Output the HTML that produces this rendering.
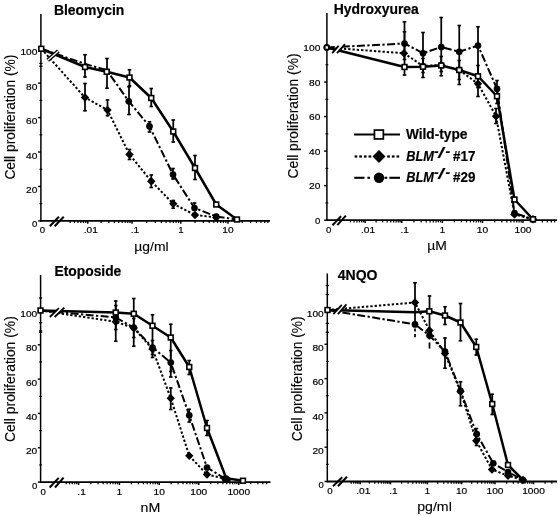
<!DOCTYPE html>
<html lang="en"><head><meta charset="utf-8"><title>Cell proliferation</title>
<style>html,body{margin:0;padding:0;background:#fff}svg{display:block}</style></head>
<body>
<svg width="560" height="516" viewBox="0 0 560 516" font-family='"Liberation Sans", sans-serif' fill="#000">
<style>text{stroke:#000;stroke-width:0.2px}text.u{stroke-width:0.12px}text.t{stroke-width:0.2px}</style>
<rect width="560" height="516" fill="#fff"/>
<line x1="40.90" y1="14.00" x2="40.90" y2="221.50" stroke="#000" stroke-width="1.5" />
<line x1="40.20" y1="220.90" x2="270.00" y2="220.90" stroke="#000" stroke-width="1.8" />
<line x1="38.10" y1="48.75" x2="40.90" y2="48.75" stroke="#000" stroke-width="1.4" />
<line x1="38.10" y1="83.18" x2="40.90" y2="83.18" stroke="#000" stroke-width="1.4" />
<line x1="39.50" y1="100.39" x2="42.30" y2="100.39" stroke="#000" stroke-width="1.1" />
<line x1="38.10" y1="117.61" x2="40.90" y2="117.61" stroke="#000" stroke-width="1.4" />
<line x1="39.50" y1="134.82" x2="42.30" y2="134.82" stroke="#000" stroke-width="1.1" />
<line x1="38.10" y1="152.04" x2="40.90" y2="152.04" stroke="#000" stroke-width="1.4" />
<line x1="39.50" y1="169.25" x2="42.30" y2="169.25" stroke="#000" stroke-width="1.1" />
<line x1="38.10" y1="186.47" x2="40.90" y2="186.47" stroke="#000" stroke-width="1.4" />
<line x1="39.50" y1="203.69" x2="42.30" y2="203.69" stroke="#000" stroke-width="1.1" />
<line x1="38.10" y1="220.90" x2="40.90" y2="220.90" stroke="#000" stroke-width="1.4" />
<line x1="39.30" y1="63.40" x2="42.50" y2="63.40" stroke="#000" stroke-width="1.3" />
<line x1="39.30" y1="66.20" x2="42.50" y2="66.20" stroke="#000" stroke-width="1.3" />
<text x="37.40" y="55.25" font-size="9.5" text-anchor="end" font-weight="normal" font-style="normal" textLength="16.96" lengthAdjust="spacingAndGlyphs" >100</text>
<text x="37.40" y="89.68" font-size="9.5" text-anchor="end" font-weight="normal" font-style="normal" textLength="11.30" lengthAdjust="spacingAndGlyphs" >80</text>
<text x="37.40" y="124.11" font-size="9.5" text-anchor="end" font-weight="normal" font-style="normal" textLength="11.30" lengthAdjust="spacingAndGlyphs" >60</text>
<text x="37.40" y="158.54" font-size="9.5" text-anchor="end" font-weight="normal" font-style="normal" textLength="11.30" lengthAdjust="spacingAndGlyphs" >40</text>
<text x="37.40" y="192.97" font-size="9.5" text-anchor="end" font-weight="normal" font-style="normal" textLength="11.30" lengthAdjust="spacingAndGlyphs" >20</text>
<text x="37.40" y="227.40" font-size="9.5" text-anchor="end" font-weight="normal" font-style="normal" >0</text>
<text x="42.50" y="233.30" font-size="9.6" text-anchor="middle" font-weight="normal" font-style="normal" >0</text>
<text x="90.75" y="233.30" font-size="9.6" text-anchor="middle" font-weight="normal" font-style="normal" textLength="14.14" lengthAdjust="spacingAndGlyphs" >.01</text>
<text x="135.00" y="233.30" font-size="9.6" text-anchor="middle" font-weight="normal" font-style="normal" textLength="8.49" lengthAdjust="spacingAndGlyphs" >.1</text>
<text x="180.80" y="233.30" font-size="9.6" text-anchor="middle" font-weight="normal" font-style="normal" >1</text>
<text x="228.00" y="233.30" font-size="9.6" text-anchor="middle" font-weight="normal" font-style="normal" textLength="11.32" lengthAdjust="spacingAndGlyphs" >10</text>
<line x1="70.14" y1="220.90" x2="70.14" y2="223.10" stroke="#000" stroke-width="1.25" />
<line x1="74.43" y1="220.90" x2="74.43" y2="223.10" stroke="#000" stroke-width="1.25" />
<line x1="77.93" y1="220.90" x2="77.93" y2="223.10" stroke="#000" stroke-width="1.25" />
<line x1="80.90" y1="220.90" x2="80.90" y2="223.10" stroke="#000" stroke-width="1.25" />
<line x1="83.46" y1="220.90" x2="83.46" y2="223.10" stroke="#000" stroke-width="1.25" />
<line x1="85.73" y1="220.90" x2="85.73" y2="223.10" stroke="#000" stroke-width="1.25" />
<line x1="87.75" y1="220.90" x2="87.75" y2="223.70" stroke="#000" stroke-width="1.5" />
<line x1="101.07" y1="220.90" x2="101.07" y2="223.10" stroke="#000" stroke-width="1.25" />
<line x1="108.86" y1="220.90" x2="108.86" y2="223.10" stroke="#000" stroke-width="1.25" />
<line x1="114.39" y1="220.90" x2="114.39" y2="223.10" stroke="#000" stroke-width="1.25" />
<line x1="118.68" y1="220.90" x2="118.68" y2="223.10" stroke="#000" stroke-width="1.25" />
<line x1="122.18" y1="220.90" x2="122.18" y2="223.10" stroke="#000" stroke-width="1.25" />
<line x1="125.15" y1="220.90" x2="125.15" y2="223.10" stroke="#000" stroke-width="1.25" />
<line x1="127.71" y1="220.90" x2="127.71" y2="223.10" stroke="#000" stroke-width="1.25" />
<line x1="129.98" y1="220.90" x2="129.98" y2="223.10" stroke="#000" stroke-width="1.25" />
<line x1="132.00" y1="220.90" x2="132.00" y2="223.70" stroke="#000" stroke-width="1.5" />
<line x1="146.69" y1="220.90" x2="146.69" y2="223.10" stroke="#000" stroke-width="1.25" />
<line x1="155.28" y1="220.90" x2="155.28" y2="223.10" stroke="#000" stroke-width="1.25" />
<line x1="161.38" y1="220.90" x2="161.38" y2="223.10" stroke="#000" stroke-width="1.25" />
<line x1="166.11" y1="220.90" x2="166.11" y2="223.10" stroke="#000" stroke-width="1.25" />
<line x1="169.97" y1="220.90" x2="169.97" y2="223.10" stroke="#000" stroke-width="1.25" />
<line x1="173.24" y1="220.90" x2="173.24" y2="223.10" stroke="#000" stroke-width="1.25" />
<line x1="176.07" y1="220.90" x2="176.07" y2="223.10" stroke="#000" stroke-width="1.25" />
<line x1="178.57" y1="220.90" x2="178.57" y2="223.10" stroke="#000" stroke-width="1.25" />
<line x1="180.80" y1="220.90" x2="180.80" y2="223.70" stroke="#000" stroke-width="1.5" />
<line x1="195.01" y1="220.90" x2="195.01" y2="223.10" stroke="#000" stroke-width="1.25" />
<line x1="203.32" y1="220.90" x2="203.32" y2="223.10" stroke="#000" stroke-width="1.25" />
<line x1="209.22" y1="220.90" x2="209.22" y2="223.10" stroke="#000" stroke-width="1.25" />
<line x1="213.79" y1="220.90" x2="213.79" y2="223.10" stroke="#000" stroke-width="1.25" />
<line x1="217.53" y1="220.90" x2="217.53" y2="223.10" stroke="#000" stroke-width="1.25" />
<line x1="220.69" y1="220.90" x2="220.69" y2="223.10" stroke="#000" stroke-width="1.25" />
<line x1="223.43" y1="220.90" x2="223.43" y2="223.10" stroke="#000" stroke-width="1.25" />
<line x1="225.84" y1="220.90" x2="225.84" y2="223.10" stroke="#000" stroke-width="1.25" />
<line x1="228.00" y1="220.90" x2="228.00" y2="223.70" stroke="#000" stroke-width="1.5" />
<line x1="242.21" y1="220.90" x2="242.21" y2="223.10" stroke="#000" stroke-width="1.25" />
<line x1="250.52" y1="220.90" x2="250.52" y2="223.10" stroke="#000" stroke-width="1.25" />
<line x1="256.42" y1="220.90" x2="256.42" y2="223.10" stroke="#000" stroke-width="1.25" />
<line x1="260.99" y1="220.90" x2="260.99" y2="223.10" stroke="#000" stroke-width="1.25" />
<line x1="264.73" y1="220.90" x2="264.73" y2="223.10" stroke="#000" stroke-width="1.25" />
<line x1="267.89" y1="220.90" x2="267.89" y2="223.10" stroke="#000" stroke-width="1.25" />
<text x="134.30" y="251.00" font-size="13.6" text-anchor="start" font-weight="normal" font-style="normal" textLength="34.30" lengthAdjust="spacingAndGlyphs" class="u">µg/ml</text>
<text x="53.90" y="14.80" font-size="14" text-anchor="start" font-weight="bold" font-style="normal" textLength="70.40" lengthAdjust="spacingAndGlyphs" class="t">Bleomycin</text>
<text class="u" transform="translate(15.40,179.60) rotate(-90)" font-size="14" textLength="125.00" lengthAdjust="spacingAndGlyphs">Cell proliferation (%)</text>
<line x1="85.00" y1="54.25" x2="85.00" y2="77.50" stroke="#000" stroke-width="1.75" />
<line x1="83.20" y1="54.75" x2="86.80" y2="54.75" stroke="#000" stroke-width="1.6" />
<line x1="83.20" y1="77.00" x2="86.80" y2="77.00" stroke="#000" stroke-width="1.6" />
<line x1="85.00" y1="83.00" x2="85.00" y2="111.25" stroke="#000" stroke-width="1.75" />
<line x1="83.20" y1="83.50" x2="86.80" y2="83.50" stroke="#000" stroke-width="1.6" />
<line x1="83.20" y1="110.75" x2="86.80" y2="110.75" stroke="#000" stroke-width="1.6" />
<line x1="107.00" y1="58.00" x2="107.00" y2="88.75" stroke="#000" stroke-width="1.75" />
<line x1="105.20" y1="58.50" x2="108.80" y2="58.50" stroke="#000" stroke-width="1.6" />
<line x1="105.20" y1="88.25" x2="108.80" y2="88.25" stroke="#000" stroke-width="1.6" />
<line x1="107.50" y1="99.50" x2="107.50" y2="116.25" stroke="#000" stroke-width="1.75" />
<line x1="105.70" y1="100.00" x2="109.30" y2="100.00" stroke="#000" stroke-width="1.6" />
<line x1="105.70" y1="115.75" x2="109.30" y2="115.75" stroke="#000" stroke-width="1.6" />
<line x1="129.50" y1="69.25" x2="129.50" y2="86.25" stroke="#000" stroke-width="1.75" />
<line x1="127.70" y1="69.75" x2="131.30" y2="69.75" stroke="#000" stroke-width="1.6" />
<line x1="127.70" y1="85.75" x2="131.30" y2="85.75" stroke="#000" stroke-width="1.6" />
<line x1="129.00" y1="86.25" x2="129.00" y2="115.00" stroke="#000" stroke-width="1.75" />
<line x1="127.20" y1="86.75" x2="130.80" y2="86.75" stroke="#000" stroke-width="1.6" />
<line x1="127.20" y1="114.50" x2="130.80" y2="114.50" stroke="#000" stroke-width="1.6" />
<line x1="151.25" y1="88.00" x2="151.25" y2="107.00" stroke="#000" stroke-width="1.75" />
<line x1="149.45" y1="88.50" x2="153.05" y2="88.50" stroke="#000" stroke-width="1.6" />
<line x1="149.45" y1="106.50" x2="153.05" y2="106.50" stroke="#000" stroke-width="1.6" />
<line x1="149.50" y1="121.25" x2="149.50" y2="132.50" stroke="#000" stroke-width="1.75" />
<line x1="147.70" y1="121.75" x2="151.30" y2="121.75" stroke="#000" stroke-width="1.6" />
<line x1="147.70" y1="132.00" x2="151.30" y2="132.00" stroke="#000" stroke-width="1.6" />
<line x1="173.25" y1="119.50" x2="173.25" y2="142.50" stroke="#000" stroke-width="1.75" />
<line x1="171.45" y1="120.00" x2="175.05" y2="120.00" stroke="#000" stroke-width="1.6" />
<line x1="171.45" y1="142.00" x2="175.05" y2="142.00" stroke="#000" stroke-width="1.6" />
<line x1="195.00" y1="155.00" x2="195.00" y2="180.00" stroke="#000" stroke-width="1.75" />
<line x1="193.20" y1="155.50" x2="196.80" y2="155.50" stroke="#000" stroke-width="1.6" />
<line x1="193.20" y1="179.50" x2="196.80" y2="179.50" stroke="#000" stroke-width="1.6" />
<line x1="173.00" y1="168.00" x2="173.00" y2="179.50" stroke="#000" stroke-width="1.75" />
<line x1="171.20" y1="168.50" x2="174.80" y2="168.50" stroke="#000" stroke-width="1.6" />
<line x1="171.20" y1="179.00" x2="174.80" y2="179.00" stroke="#000" stroke-width="1.6" />
<line x1="194.50" y1="202.50" x2="194.50" y2="210.00" stroke="#000" stroke-width="1.75" />
<line x1="192.70" y1="203.00" x2="196.30" y2="203.00" stroke="#000" stroke-width="1.6" />
<line x1="192.70" y1="209.50" x2="196.30" y2="209.50" stroke="#000" stroke-width="1.6" />
<line x1="151.25" y1="174.50" x2="151.25" y2="188.00" stroke="#000" stroke-width="1.75" />
<line x1="149.45" y1="175.00" x2="153.05" y2="175.00" stroke="#000" stroke-width="1.6" />
<line x1="149.45" y1="187.50" x2="153.05" y2="187.50" stroke="#000" stroke-width="1.6" />
<line x1="173.25" y1="200.00" x2="173.25" y2="208.75" stroke="#000" stroke-width="1.75" />
<line x1="171.45" y1="200.50" x2="175.05" y2="200.50" stroke="#000" stroke-width="1.6" />
<line x1="171.45" y1="208.25" x2="175.05" y2="208.25" stroke="#000" stroke-width="1.6" />
<line x1="129.50" y1="149.00" x2="129.50" y2="160.00" stroke="#000" stroke-width="1.75" />
<line x1="127.70" y1="149.50" x2="131.30" y2="149.50" stroke="#000" stroke-width="1.6" />
<line x1="127.70" y1="159.50" x2="131.30" y2="159.50" stroke="#000" stroke-width="1.6" />
<polyline points="41.25,48.75 85.00,97.50 107.50,110.00 129.50,154.50 151.25,181.25 173.25,203.75 195.00,215.00 216.25,217.50" fill="none" stroke="#000" stroke-width="2.0" stroke-linejoin="round" stroke-linecap="butt" stroke-dasharray="2.3 2.0"/>
<polyline points="41.25,48.75 85.00,63.90 106.75,70.20 128.75,101.25 149.50,126.25 173.00,174.50 194.50,208.00 216.25,216.50 237.00,219.50" fill="none" stroke="#000" stroke-width="2.0" stroke-linejoin="round" stroke-linecap="butt" stroke-dasharray="8 2.4 2.3 2.4"/>
<polyline points="41.25,48.75 85.00,67.00 106.75,71.75 129.50,77.50 151.25,98.00 173.25,131.50 195.00,168.00 216.25,204.50 237.00,219.50" fill="none" stroke="#000" stroke-width="2.5" stroke-linejoin="round" stroke-linecap="butt"/>
<line x1="49.80" y1="226.20" x2="58.90" y2="216.80" stroke="#000" stroke-width="2.0" />
<line x1="54.60" y1="226.20" x2="63.75" y2="216.80" stroke="#000" stroke-width="2.0" />
<line x1="47.70" y1="60.20" x2="58.40" y2="51.10" stroke="#000" stroke-width="4.0" />
<line x1="47.70" y1="60.20" x2="58.40" y2="51.10" stroke="#fff" stroke-width="1.3" />
<polygon points="80.80,97.50 85.00,93.30 89.20,97.50 85.00,101.70" fill="#000"/>
<polygon points="103.30,110.00 107.50,105.80 111.70,110.00 107.50,114.20" fill="#000"/>
<polygon points="125.30,154.50 129.50,150.30 133.70,154.50 129.50,158.70" fill="#000"/>
<polygon points="147.05,181.25 151.25,177.05 155.45,181.25 151.25,185.45" fill="#000"/>
<polygon points="169.05,203.75 173.25,199.55 177.45,203.75 173.25,207.95" fill="#000"/>
<polygon points="190.80,215.00 195.00,210.80 199.20,215.00 195.00,219.20" fill="#000"/>
<polygon points="212.05,217.50 216.25,213.30 220.45,217.50 216.25,221.70" fill="#000"/>
<circle cx="128.75" cy="101.25" r="3.35" fill="#000"/>
<circle cx="149.50" cy="126.25" r="3.35" fill="#000"/>
<circle cx="173.00" cy="174.50" r="3.35" fill="#000"/>
<circle cx="194.50" cy="208.00" r="3.35" fill="#000"/>
<circle cx="216.25" cy="216.50" r="3.35" fill="#000"/>
<rect x="82.60" y="64.60" width="4.8" height="4.8" fill="#fff" stroke="#000" stroke-width="1.6"/>
<rect x="104.35" y="69.35" width="4.8" height="4.8" fill="#fff" stroke="#000" stroke-width="1.6"/>
<rect x="127.10" y="75.10" width="4.8" height="4.8" fill="#fff" stroke="#000" stroke-width="1.6"/>
<rect x="148.85" y="95.60" width="4.8" height="4.8" fill="#fff" stroke="#000" stroke-width="1.6"/>
<rect x="170.85" y="129.10" width="4.8" height="4.8" fill="#fff" stroke="#000" stroke-width="1.6"/>
<rect x="192.60" y="165.60" width="4.8" height="4.8" fill="#fff" stroke="#000" stroke-width="1.6"/>
<rect x="213.85" y="202.10" width="4.8" height="4.8" fill="#fff" stroke="#000" stroke-width="1.6"/>
<rect x="234.60" y="217.10" width="4.8" height="4.8" fill="#fff" stroke="#000" stroke-width="1.6"/>
<rect x="38.85" y="46.35" width="4.8" height="4.8" fill="#fff" stroke="#000" stroke-width="1.6"/>
<line x1="326.90" y1="13.00" x2="326.90" y2="220.80" stroke="#000" stroke-width="1.5" />
<line x1="326.20" y1="220.20" x2="557.00" y2="220.20" stroke="#000" stroke-width="1.8" />
<line x1="324.10" y1="47.50" x2="326.90" y2="47.50" stroke="#000" stroke-width="1.4" />
<line x1="325.50" y1="64.77" x2="328.30" y2="64.77" stroke="#000" stroke-width="1.1" />
<line x1="324.10" y1="82.04" x2="326.90" y2="82.04" stroke="#000" stroke-width="1.4" />
<line x1="325.50" y1="99.31" x2="328.30" y2="99.31" stroke="#000" stroke-width="1.1" />
<line x1="324.10" y1="116.58" x2="326.90" y2="116.58" stroke="#000" stroke-width="1.4" />
<line x1="325.50" y1="133.85" x2="328.30" y2="133.85" stroke="#000" stroke-width="1.1" />
<line x1="324.10" y1="151.12" x2="326.90" y2="151.12" stroke="#000" stroke-width="1.4" />
<line x1="325.50" y1="168.39" x2="328.30" y2="168.39" stroke="#000" stroke-width="1.1" />
<line x1="324.10" y1="185.66" x2="326.90" y2="185.66" stroke="#000" stroke-width="1.4" />
<line x1="325.50" y1="202.93" x2="328.30" y2="202.93" stroke="#000" stroke-width="1.1" />
<line x1="324.10" y1="220.20" x2="326.90" y2="220.20" stroke="#000" stroke-width="1.4" />
<text x="320.30" y="51.20" font-size="9.5" text-anchor="end" font-weight="normal" font-style="normal" textLength="16.96" lengthAdjust="spacingAndGlyphs" >100</text>
<text x="320.30" y="85.74" font-size="9.5" text-anchor="end" font-weight="normal" font-style="normal" textLength="11.30" lengthAdjust="spacingAndGlyphs" >80</text>
<text x="320.30" y="120.28" font-size="9.5" text-anchor="end" font-weight="normal" font-style="normal" textLength="11.30" lengthAdjust="spacingAndGlyphs" >60</text>
<text x="320.30" y="154.82" font-size="9.5" text-anchor="end" font-weight="normal" font-style="normal" textLength="11.30" lengthAdjust="spacingAndGlyphs" >40</text>
<text x="320.30" y="189.36" font-size="9.5" text-anchor="end" font-weight="normal" font-style="normal" textLength="11.30" lengthAdjust="spacingAndGlyphs" >20</text>
<text x="320.30" y="223.90" font-size="9.5" text-anchor="end" font-weight="normal" font-style="normal" >0</text>
<text x="328.60" y="233.10" font-size="9.6" text-anchor="middle" font-weight="normal" font-style="normal" >0</text>
<text x="368.10" y="233.10" font-size="9.6" text-anchor="middle" font-weight="normal" font-style="normal" textLength="14.14" lengthAdjust="spacingAndGlyphs" >.01</text>
<text x="404.80" y="233.10" font-size="9.6" text-anchor="middle" font-weight="normal" font-style="normal" textLength="8.49" lengthAdjust="spacingAndGlyphs" >.1</text>
<text x="442.30" y="233.10" font-size="9.6" text-anchor="middle" font-weight="normal" font-style="normal" >1</text>
<text x="482.50" y="233.10" font-size="9.6" text-anchor="middle" font-weight="normal" font-style="normal" textLength="11.32" lengthAdjust="spacingAndGlyphs" >10</text>
<text x="523.00" y="233.10" font-size="9.6" text-anchor="middle" font-weight="normal" font-style="normal" textLength="16.97" lengthAdjust="spacingAndGlyphs" >100</text>
<line x1="350.50" y1="220.20" x2="350.50" y2="222.40" stroke="#000" stroke-width="1.25" />
<line x1="354.05" y1="220.20" x2="354.05" y2="222.40" stroke="#000" stroke-width="1.25" />
<line x1="356.96" y1="220.20" x2="356.96" y2="222.40" stroke="#000" stroke-width="1.25" />
<line x1="359.42" y1="220.20" x2="359.42" y2="222.40" stroke="#000" stroke-width="1.25" />
<line x1="361.54" y1="220.20" x2="361.54" y2="222.40" stroke="#000" stroke-width="1.25" />
<line x1="363.42" y1="220.20" x2="363.42" y2="222.40" stroke="#000" stroke-width="1.25" />
<line x1="365.10" y1="220.20" x2="365.10" y2="223.00" stroke="#000" stroke-width="1.5" />
<line x1="376.15" y1="220.20" x2="376.15" y2="222.40" stroke="#000" stroke-width="1.25" />
<line x1="382.61" y1="220.20" x2="382.61" y2="222.40" stroke="#000" stroke-width="1.25" />
<line x1="387.20" y1="220.20" x2="387.20" y2="222.40" stroke="#000" stroke-width="1.25" />
<line x1="390.75" y1="220.20" x2="390.75" y2="222.40" stroke="#000" stroke-width="1.25" />
<line x1="393.66" y1="220.20" x2="393.66" y2="222.40" stroke="#000" stroke-width="1.25" />
<line x1="396.12" y1="220.20" x2="396.12" y2="222.40" stroke="#000" stroke-width="1.25" />
<line x1="398.24" y1="220.20" x2="398.24" y2="222.40" stroke="#000" stroke-width="1.25" />
<line x1="400.12" y1="220.20" x2="400.12" y2="222.40" stroke="#000" stroke-width="1.25" />
<line x1="401.80" y1="220.20" x2="401.80" y2="223.00" stroke="#000" stroke-width="1.5" />
<line x1="413.99" y1="220.20" x2="413.99" y2="222.40" stroke="#000" stroke-width="1.25" />
<line x1="421.12" y1="220.20" x2="421.12" y2="222.40" stroke="#000" stroke-width="1.25" />
<line x1="426.18" y1="220.20" x2="426.18" y2="222.40" stroke="#000" stroke-width="1.25" />
<line x1="430.11" y1="220.20" x2="430.11" y2="222.40" stroke="#000" stroke-width="1.25" />
<line x1="433.32" y1="220.20" x2="433.32" y2="222.40" stroke="#000" stroke-width="1.25" />
<line x1="436.03" y1="220.20" x2="436.03" y2="222.40" stroke="#000" stroke-width="1.25" />
<line x1="438.38" y1="220.20" x2="438.38" y2="222.40" stroke="#000" stroke-width="1.25" />
<line x1="440.45" y1="220.20" x2="440.45" y2="222.40" stroke="#000" stroke-width="1.25" />
<line x1="442.30" y1="220.20" x2="442.30" y2="223.00" stroke="#000" stroke-width="1.5" />
<line x1="454.40" y1="220.20" x2="454.40" y2="222.40" stroke="#000" stroke-width="1.25" />
<line x1="461.48" y1="220.20" x2="461.48" y2="222.40" stroke="#000" stroke-width="1.25" />
<line x1="466.50" y1="220.20" x2="466.50" y2="222.40" stroke="#000" stroke-width="1.25" />
<line x1="470.40" y1="220.20" x2="470.40" y2="222.40" stroke="#000" stroke-width="1.25" />
<line x1="473.58" y1="220.20" x2="473.58" y2="222.40" stroke="#000" stroke-width="1.25" />
<line x1="476.27" y1="220.20" x2="476.27" y2="222.40" stroke="#000" stroke-width="1.25" />
<line x1="478.60" y1="220.20" x2="478.60" y2="222.40" stroke="#000" stroke-width="1.25" />
<line x1="480.66" y1="220.20" x2="480.66" y2="222.40" stroke="#000" stroke-width="1.25" />
<line x1="482.50" y1="220.20" x2="482.50" y2="223.00" stroke="#000" stroke-width="1.5" />
<line x1="494.69" y1="220.20" x2="494.69" y2="222.40" stroke="#000" stroke-width="1.25" />
<line x1="501.82" y1="220.20" x2="501.82" y2="222.40" stroke="#000" stroke-width="1.25" />
<line x1="506.88" y1="220.20" x2="506.88" y2="222.40" stroke="#000" stroke-width="1.25" />
<line x1="510.81" y1="220.20" x2="510.81" y2="222.40" stroke="#000" stroke-width="1.25" />
<line x1="514.02" y1="220.20" x2="514.02" y2="222.40" stroke="#000" stroke-width="1.25" />
<line x1="516.73" y1="220.20" x2="516.73" y2="222.40" stroke="#000" stroke-width="1.25" />
<line x1="519.08" y1="220.20" x2="519.08" y2="222.40" stroke="#000" stroke-width="1.25" />
<line x1="521.15" y1="220.20" x2="521.15" y2="222.40" stroke="#000" stroke-width="1.25" />
<line x1="523.00" y1="220.20" x2="523.00" y2="223.00" stroke="#000" stroke-width="1.5" />
<line x1="535.19" y1="220.20" x2="535.19" y2="222.40" stroke="#000" stroke-width="1.25" />
<line x1="542.32" y1="220.20" x2="542.32" y2="222.40" stroke="#000" stroke-width="1.25" />
<line x1="547.38" y1="220.20" x2="547.38" y2="222.40" stroke="#000" stroke-width="1.25" />
<line x1="551.31" y1="220.20" x2="551.31" y2="222.40" stroke="#000" stroke-width="1.25" />
<line x1="554.52" y1="220.20" x2="554.52" y2="222.40" stroke="#000" stroke-width="1.25" />
<text x="427.30" y="250.30" font-size="13.6" text-anchor="start" font-weight="normal" font-style="normal" textLength="19.60" lengthAdjust="spacingAndGlyphs" class="u">µM</text>
<text x="333.80" y="13.60" font-size="14" text-anchor="start" font-weight="bold" font-style="normal" textLength="85.00" lengthAdjust="spacingAndGlyphs" class="t">Hydroxyurea</text>
<text class="u" transform="translate(298.10,178.50) rotate(-90)" font-size="14" textLength="125.00" lengthAdjust="spacingAndGlyphs">Cell proliferation (%)</text>
<line x1="404.50" y1="21.25" x2="404.50" y2="75.50" stroke="#000" stroke-width="1.75" />
<line x1="402.70" y1="21.75" x2="406.30" y2="21.75" stroke="#000" stroke-width="1.6" />
<line x1="402.70" y1="75.00" x2="406.30" y2="75.00" stroke="#000" stroke-width="1.6" />
<line x1="404.50" y1="31.25" x2="404.50" y2="60.00" stroke="#000" stroke-width="1.75" />
<line x1="402.70" y1="31.75" x2="406.30" y2="31.75" stroke="#000" stroke-width="1.6" />
<line x1="402.70" y1="59.50" x2="406.30" y2="59.50" stroke="#000" stroke-width="1.6" />
<line x1="423.00" y1="32.00" x2="423.00" y2="78.00" stroke="#000" stroke-width="1.75" />
<line x1="421.20" y1="32.50" x2="424.80" y2="32.50" stroke="#000" stroke-width="1.6" />
<line x1="421.20" y1="77.50" x2="424.80" y2="77.50" stroke="#000" stroke-width="1.6" />
<line x1="423.00" y1="58.00" x2="423.00" y2="73.00" stroke="#000" stroke-width="1.75" />
<line x1="421.20" y1="58.50" x2="424.80" y2="58.50" stroke="#000" stroke-width="1.6" />
<line x1="421.20" y1="72.50" x2="424.80" y2="72.50" stroke="#000" stroke-width="1.6" />
<line x1="441.25" y1="17.00" x2="441.25" y2="76.25" stroke="#000" stroke-width="1.75" />
<line x1="439.45" y1="17.50" x2="443.05" y2="17.50" stroke="#000" stroke-width="1.6" />
<line x1="439.45" y1="75.75" x2="443.05" y2="75.75" stroke="#000" stroke-width="1.6" />
<line x1="441.25" y1="56.00" x2="441.25" y2="72.00" stroke="#000" stroke-width="1.75" />
<line x1="439.45" y1="56.50" x2="443.05" y2="56.50" stroke="#000" stroke-width="1.6" />
<line x1="439.45" y1="71.50" x2="443.05" y2="71.50" stroke="#000" stroke-width="1.6" />
<line x1="459.25" y1="25.00" x2="459.25" y2="85.00" stroke="#000" stroke-width="1.75" />
<line x1="457.45" y1="25.50" x2="461.05" y2="25.50" stroke="#000" stroke-width="1.6" />
<line x1="457.45" y1="84.50" x2="461.05" y2="84.50" stroke="#000" stroke-width="1.6" />
<line x1="459.25" y1="60.00" x2="459.25" y2="80.00" stroke="#000" stroke-width="1.75" />
<line x1="457.45" y1="60.50" x2="461.05" y2="60.50" stroke="#000" stroke-width="1.6" />
<line x1="457.45" y1="79.50" x2="461.05" y2="79.50" stroke="#000" stroke-width="1.6" />
<line x1="478.00" y1="26.25" x2="478.00" y2="97.00" stroke="#000" stroke-width="1.75" />
<line x1="476.20" y1="26.75" x2="479.80" y2="26.75" stroke="#000" stroke-width="1.6" />
<line x1="476.20" y1="96.50" x2="479.80" y2="96.50" stroke="#000" stroke-width="1.6" />
<line x1="478.00" y1="65.00" x2="478.00" y2="88.00" stroke="#000" stroke-width="1.75" />
<line x1="476.20" y1="65.50" x2="479.80" y2="65.50" stroke="#000" stroke-width="1.6" />
<line x1="476.20" y1="87.50" x2="479.80" y2="87.50" stroke="#000" stroke-width="1.6" />
<line x1="497.00" y1="80.00" x2="497.00" y2="104.00" stroke="#000" stroke-width="1.75" />
<line x1="495.20" y1="80.50" x2="498.80" y2="80.50" stroke="#000" stroke-width="1.6" />
<line x1="495.20" y1="103.50" x2="498.80" y2="103.50" stroke="#000" stroke-width="1.6" />
<line x1="496.00" y1="108.00" x2="496.00" y2="124.00" stroke="#000" stroke-width="1.75" />
<line x1="494.20" y1="108.50" x2="497.80" y2="108.50" stroke="#000" stroke-width="1.6" />
<line x1="494.20" y1="123.50" x2="497.80" y2="123.50" stroke="#000" stroke-width="1.6" />
<polyline points="326.75,47.50 404.00,53.25 423.00,66.00 441.25,65.00 459.25,70.00 478.00,83.75 496.00,116.25 514.50,214.50 533.00,219.25" fill="none" stroke="#000" stroke-width="2.0" stroke-linejoin="round" stroke-linecap="butt" stroke-dasharray="2.3 2.0"/>
<polyline points="326.75,47.50 404.50,43.50 423.00,53.25 441.25,47.00 459.25,51.75 478.00,45.50 497.00,88.75 514.50,213.00 533.00,219.25" fill="none" stroke="#000" stroke-width="2.0" stroke-linejoin="round" stroke-linecap="butt" stroke-dasharray="8 2.4 2.3 2.4"/>
<polyline points="326.75,47.50 404.50,67.00 423.00,66.75 441.25,65.50 459.25,70.00 478.00,76.25 497.00,96.25 514.50,199.50 533.00,219.25" fill="none" stroke="#000" stroke-width="2.5" stroke-linejoin="round" stroke-linecap="butt"/>
<line x1="332.50" y1="225.20" x2="341.10" y2="216.30" stroke="#000" stroke-width="2.0" />
<line x1="337.30" y1="225.20" x2="345.90" y2="215.70" stroke="#000" stroke-width="2.0" />
<polygon points="332.20,53.10 338.60,45.90 345.00,44.10 337.00,53.10" fill="#fff"/>
<line x1="332.20" y1="53.10" x2="338.60" y2="45.90" stroke="#000" stroke-width="1.8" />
<line x1="337.00" y1="53.10" x2="345.00" y2="44.10" stroke="#000" stroke-width="1.8" />
<polygon points="399.80,53.25 404.00,49.05 408.20,53.25 404.00,57.45" fill="#000"/>
<polygon points="418.80,66.00 423.00,61.80 427.20,66.00 423.00,70.20" fill="#000"/>
<polygon points="437.05,65.00 441.25,60.80 445.45,65.00 441.25,69.20" fill="#000"/>
<polygon points="455.05,70.00 459.25,65.80 463.45,70.00 459.25,74.20" fill="#000"/>
<polygon points="473.80,83.75 478.00,79.55 482.20,83.75 478.00,87.95" fill="#000"/>
<polygon points="491.80,116.25 496.00,112.05 500.20,116.25 496.00,120.45" fill="#000"/>
<polygon points="510.30,214.50 514.50,210.30 518.70,214.50 514.50,218.70" fill="#000"/>
<polygon points="528.80,219.25 533.00,215.05 537.20,219.25 533.00,223.45" fill="#000"/>
<circle cx="404.50" cy="43.50" r="3.35" fill="#000"/>
<circle cx="423.00" cy="53.25" r="3.35" fill="#000"/>
<circle cx="441.25" cy="47.00" r="3.35" fill="#000"/>
<circle cx="459.25" cy="51.75" r="3.35" fill="#000"/>
<circle cx="478.00" cy="45.50" r="3.35" fill="#000"/>
<circle cx="497.00" cy="88.75" r="3.35" fill="#000"/>
<circle cx="514.50" cy="213.00" r="3.35" fill="#000"/>
<circle cx="533.00" cy="219.25" r="3.35" fill="#000"/>
<rect x="402.10" y="64.60" width="4.8" height="4.8" fill="#fff" stroke="#000" stroke-width="1.6"/>
<rect x="420.60" y="64.35" width="4.8" height="4.8" fill="#fff" stroke="#000" stroke-width="1.6"/>
<rect x="438.85" y="63.10" width="4.8" height="4.8" fill="#fff" stroke="#000" stroke-width="1.6"/>
<rect x="456.85" y="67.60" width="4.8" height="4.8" fill="#fff" stroke="#000" stroke-width="1.6"/>
<rect x="475.60" y="73.85" width="4.8" height="4.8" fill="#fff" stroke="#000" stroke-width="1.6"/>
<rect x="494.60" y="93.85" width="4.8" height="4.8" fill="#fff" stroke="#000" stroke-width="1.6"/>
<rect x="512.10" y="197.10" width="4.8" height="4.8" fill="#fff" stroke="#000" stroke-width="1.6"/>
<rect x="530.60" y="216.85" width="4.8" height="4.8" fill="#fff" stroke="#000" stroke-width="1.6"/>
<circle cx="326.75" cy="47.50" r="3.4" fill="#000"/>
<rect x="325.55" y="46.30" width="2.4" height="2.4" fill="#fff"/>
<line x1="40.60" y1="275.00" x2="40.60" y2="482.70" stroke="#000" stroke-width="1.5" />
<line x1="39.90" y1="482.10" x2="270.50" y2="482.10" stroke="#000" stroke-width="1.8" />
<line x1="37.80" y1="310.50" x2="40.60" y2="310.50" stroke="#000" stroke-width="1.4" />
<line x1="37.80" y1="344.82" x2="40.60" y2="344.82" stroke="#000" stroke-width="1.4" />
<line x1="39.20" y1="361.98" x2="42.00" y2="361.98" stroke="#000" stroke-width="1.1" />
<line x1="37.80" y1="379.14" x2="40.60" y2="379.14" stroke="#000" stroke-width="1.4" />
<line x1="39.20" y1="396.30" x2="42.00" y2="396.30" stroke="#000" stroke-width="1.1" />
<line x1="37.80" y1="413.46" x2="40.60" y2="413.46" stroke="#000" stroke-width="1.4" />
<line x1="39.20" y1="430.62" x2="42.00" y2="430.62" stroke="#000" stroke-width="1.1" />
<line x1="37.80" y1="447.78" x2="40.60" y2="447.78" stroke="#000" stroke-width="1.4" />
<line x1="39.20" y1="464.94" x2="42.00" y2="464.94" stroke="#000" stroke-width="1.1" />
<line x1="37.80" y1="482.10" x2="40.60" y2="482.10" stroke="#000" stroke-width="1.4" />
<line x1="39.00" y1="298.00" x2="42.20" y2="298.00" stroke="#000" stroke-width="1.3" />
<line x1="39.00" y1="322.70" x2="42.20" y2="322.70" stroke="#000" stroke-width="1.3" />
<line x1="39.00" y1="330.90" x2="42.20" y2="330.90" stroke="#000" stroke-width="1.3" />
<line x1="39.00" y1="332.30" x2="42.20" y2="332.30" stroke="#000" stroke-width="1.3" />
<text x="37.20" y="317.10" font-size="9.5" text-anchor="end" font-weight="normal" font-style="normal" textLength="16.96" lengthAdjust="spacingAndGlyphs" >100</text>
<text x="37.20" y="351.42" font-size="9.5" text-anchor="end" font-weight="normal" font-style="normal" textLength="11.30" lengthAdjust="spacingAndGlyphs" >80</text>
<text x="37.20" y="385.74" font-size="9.5" text-anchor="end" font-weight="normal" font-style="normal" textLength="11.30" lengthAdjust="spacingAndGlyphs" >60</text>
<text x="37.20" y="420.06" font-size="9.5" text-anchor="end" font-weight="normal" font-style="normal" textLength="11.30" lengthAdjust="spacingAndGlyphs" >40</text>
<text x="37.20" y="454.38" font-size="9.5" text-anchor="end" font-weight="normal" font-style="normal" textLength="11.30" lengthAdjust="spacingAndGlyphs" >20</text>
<text x="37.20" y="488.70" font-size="9.5" text-anchor="end" font-weight="normal" font-style="normal" >0</text>
<text x="43.20" y="494.60" font-size="9.6" text-anchor="middle" font-weight="normal" font-style="normal" >0</text>
<text x="81.60" y="494.60" font-size="9.6" text-anchor="middle" font-weight="normal" font-style="normal" textLength="8.49" lengthAdjust="spacingAndGlyphs" >.1</text>
<text x="119.40" y="494.60" font-size="9.6" text-anchor="middle" font-weight="normal" font-style="normal" >1</text>
<text x="159.20" y="494.60" font-size="9.6" text-anchor="middle" font-weight="normal" font-style="normal" textLength="11.32" lengthAdjust="spacingAndGlyphs" >10</text>
<text x="198.75" y="494.60" font-size="9.6" text-anchor="middle" font-weight="normal" font-style="normal" textLength="16.97" lengthAdjust="spacingAndGlyphs" >100</text>
<text x="238.75" y="494.60" font-size="9.6" text-anchor="middle" font-weight="normal" font-style="normal" textLength="22.63" lengthAdjust="spacingAndGlyphs" >1000</text>
<line x1="66.32" y1="482.10" x2="66.32" y2="484.30" stroke="#000" stroke-width="1.25" />
<line x1="69.55" y1="482.10" x2="69.55" y2="484.30" stroke="#000" stroke-width="1.25" />
<line x1="72.28" y1="482.10" x2="72.28" y2="484.30" stroke="#000" stroke-width="1.25" />
<line x1="74.65" y1="482.10" x2="74.65" y2="484.30" stroke="#000" stroke-width="1.25" />
<line x1="76.73" y1="482.10" x2="76.73" y2="484.30" stroke="#000" stroke-width="1.25" />
<line x1="78.60" y1="482.10" x2="78.60" y2="484.90" stroke="#000" stroke-width="1.5" />
<line x1="90.88" y1="482.10" x2="90.88" y2="484.30" stroke="#000" stroke-width="1.25" />
<line x1="98.07" y1="482.10" x2="98.07" y2="484.30" stroke="#000" stroke-width="1.25" />
<line x1="103.16" y1="482.10" x2="103.16" y2="484.30" stroke="#000" stroke-width="1.25" />
<line x1="107.12" y1="482.10" x2="107.12" y2="484.30" stroke="#000" stroke-width="1.25" />
<line x1="110.35" y1="482.10" x2="110.35" y2="484.30" stroke="#000" stroke-width="1.25" />
<line x1="113.08" y1="482.10" x2="113.08" y2="484.30" stroke="#000" stroke-width="1.25" />
<line x1="115.45" y1="482.10" x2="115.45" y2="484.30" stroke="#000" stroke-width="1.25" />
<line x1="117.53" y1="482.10" x2="117.53" y2="484.30" stroke="#000" stroke-width="1.25" />
<line x1="119.40" y1="482.10" x2="119.40" y2="484.90" stroke="#000" stroke-width="1.5" />
<line x1="131.38" y1="482.10" x2="131.38" y2="484.30" stroke="#000" stroke-width="1.25" />
<line x1="138.39" y1="482.10" x2="138.39" y2="484.30" stroke="#000" stroke-width="1.25" />
<line x1="143.36" y1="482.10" x2="143.36" y2="484.30" stroke="#000" stroke-width="1.25" />
<line x1="147.22" y1="482.10" x2="147.22" y2="484.30" stroke="#000" stroke-width="1.25" />
<line x1="150.37" y1="482.10" x2="150.37" y2="484.30" stroke="#000" stroke-width="1.25" />
<line x1="153.03" y1="482.10" x2="153.03" y2="484.30" stroke="#000" stroke-width="1.25" />
<line x1="155.34" y1="482.10" x2="155.34" y2="484.30" stroke="#000" stroke-width="1.25" />
<line x1="157.38" y1="482.10" x2="157.38" y2="484.30" stroke="#000" stroke-width="1.25" />
<line x1="159.20" y1="482.10" x2="159.20" y2="484.90" stroke="#000" stroke-width="1.5" />
<line x1="171.11" y1="482.10" x2="171.11" y2="484.30" stroke="#000" stroke-width="1.25" />
<line x1="178.07" y1="482.10" x2="178.07" y2="484.30" stroke="#000" stroke-width="1.25" />
<line x1="183.01" y1="482.10" x2="183.01" y2="484.30" stroke="#000" stroke-width="1.25" />
<line x1="186.84" y1="482.10" x2="186.84" y2="484.30" stroke="#000" stroke-width="1.25" />
<line x1="189.98" y1="482.10" x2="189.98" y2="484.30" stroke="#000" stroke-width="1.25" />
<line x1="192.62" y1="482.10" x2="192.62" y2="484.30" stroke="#000" stroke-width="1.25" />
<line x1="194.92" y1="482.10" x2="194.92" y2="484.30" stroke="#000" stroke-width="1.25" />
<line x1="196.94" y1="482.10" x2="196.94" y2="484.30" stroke="#000" stroke-width="1.25" />
<line x1="198.75" y1="482.10" x2="198.75" y2="484.90" stroke="#000" stroke-width="1.5" />
<line x1="210.79" y1="482.10" x2="210.79" y2="484.30" stroke="#000" stroke-width="1.25" />
<line x1="217.83" y1="482.10" x2="217.83" y2="484.30" stroke="#000" stroke-width="1.25" />
<line x1="222.83" y1="482.10" x2="222.83" y2="484.30" stroke="#000" stroke-width="1.25" />
<line x1="226.71" y1="482.10" x2="226.71" y2="484.30" stroke="#000" stroke-width="1.25" />
<line x1="229.88" y1="482.10" x2="229.88" y2="484.30" stroke="#000" stroke-width="1.25" />
<line x1="232.55" y1="482.10" x2="232.55" y2="484.30" stroke="#000" stroke-width="1.25" />
<line x1="234.87" y1="482.10" x2="234.87" y2="484.30" stroke="#000" stroke-width="1.25" />
<line x1="236.92" y1="482.10" x2="236.92" y2="484.30" stroke="#000" stroke-width="1.25" />
<line x1="238.75" y1="482.10" x2="238.75" y2="484.90" stroke="#000" stroke-width="1.5" />
<line x1="250.79" y1="482.10" x2="250.79" y2="484.30" stroke="#000" stroke-width="1.25" />
<line x1="257.83" y1="482.10" x2="257.83" y2="484.30" stroke="#000" stroke-width="1.25" />
<line x1="262.83" y1="482.10" x2="262.83" y2="484.30" stroke="#000" stroke-width="1.25" />
<line x1="266.71" y1="482.10" x2="266.71" y2="484.30" stroke="#000" stroke-width="1.25" />
<text x="140.60" y="512.00" font-size="13.6" text-anchor="start" font-weight="normal" font-style="normal" textLength="19.80" lengthAdjust="spacingAndGlyphs" class="u">nM</text>
<text x="54.50" y="275.60" font-size="14" text-anchor="start" font-weight="bold" font-style="normal" textLength="66.80" lengthAdjust="spacingAndGlyphs" class="t">Etoposide</text>
<text class="u" transform="translate(15.40,442.00) rotate(-90)" font-size="14" textLength="125.80" lengthAdjust="spacingAndGlyphs">Cell proliferation (%)</text>
<line x1="115.75" y1="300.50" x2="115.75" y2="341.75" stroke="#000" stroke-width="1.75" />
<line x1="113.95" y1="301.00" x2="117.55" y2="301.00" stroke="#000" stroke-width="1.6" />
<line x1="113.95" y1="341.25" x2="117.55" y2="341.25" stroke="#000" stroke-width="1.6" />
<line x1="115.75" y1="305.00" x2="115.75" y2="330.00" stroke="#000" stroke-width="1.75" />
<line x1="113.95" y1="305.50" x2="117.55" y2="305.50" stroke="#000" stroke-width="1.6" />
<line x1="113.95" y1="329.50" x2="117.55" y2="329.50" stroke="#000" stroke-width="1.6" />
<line x1="133.75" y1="298.00" x2="133.75" y2="346.75" stroke="#000" stroke-width="1.75" />
<line x1="131.95" y1="298.50" x2="135.55" y2="298.50" stroke="#000" stroke-width="1.6" />
<line x1="131.95" y1="346.25" x2="135.55" y2="346.25" stroke="#000" stroke-width="1.6" />
<line x1="133.75" y1="318.00" x2="133.75" y2="338.00" stroke="#000" stroke-width="1.75" />
<line x1="131.95" y1="318.50" x2="135.55" y2="318.50" stroke="#000" stroke-width="1.6" />
<line x1="131.95" y1="337.50" x2="135.55" y2="337.50" stroke="#000" stroke-width="1.6" />
<line x1="152.50" y1="314.25" x2="152.50" y2="358.00" stroke="#000" stroke-width="1.75" />
<line x1="150.70" y1="314.75" x2="154.30" y2="314.75" stroke="#000" stroke-width="1.6" />
<line x1="150.70" y1="357.50" x2="154.30" y2="357.50" stroke="#000" stroke-width="1.6" />
<line x1="152.50" y1="340.00" x2="152.50" y2="355.00" stroke="#000" stroke-width="1.75" />
<line x1="150.70" y1="340.50" x2="154.30" y2="340.50" stroke="#000" stroke-width="1.6" />
<line x1="150.70" y1="354.50" x2="154.30" y2="354.50" stroke="#000" stroke-width="1.6" />
<line x1="170.75" y1="323.75" x2="170.75" y2="377.50" stroke="#000" stroke-width="1.75" />
<line x1="168.95" y1="324.25" x2="172.55" y2="324.25" stroke="#000" stroke-width="1.6" />
<line x1="168.95" y1="377.00" x2="172.55" y2="377.00" stroke="#000" stroke-width="1.6" />
<line x1="170.75" y1="350.00" x2="170.75" y2="372.00" stroke="#000" stroke-width="1.75" />
<line x1="168.95" y1="350.50" x2="172.55" y2="350.50" stroke="#000" stroke-width="1.6" />
<line x1="168.95" y1="371.50" x2="172.55" y2="371.50" stroke="#000" stroke-width="1.6" />
<line x1="170.75" y1="387.50" x2="170.75" y2="410.00" stroke="#000" stroke-width="1.75" />
<line x1="168.95" y1="388.00" x2="172.55" y2="388.00" stroke="#000" stroke-width="1.6" />
<line x1="168.95" y1="409.50" x2="172.55" y2="409.50" stroke="#000" stroke-width="1.6" />
<line x1="189.25" y1="360.00" x2="189.25" y2="375.00" stroke="#000" stroke-width="1.75" />
<line x1="187.45" y1="360.50" x2="191.05" y2="360.50" stroke="#000" stroke-width="1.6" />
<line x1="187.45" y1="374.50" x2="191.05" y2="374.50" stroke="#000" stroke-width="1.6" />
<line x1="189.25" y1="408.75" x2="189.25" y2="422.50" stroke="#000" stroke-width="1.75" />
<line x1="187.45" y1="409.25" x2="191.05" y2="409.25" stroke="#000" stroke-width="1.6" />
<line x1="187.45" y1="422.00" x2="191.05" y2="422.00" stroke="#000" stroke-width="1.6" />
<line x1="207.00" y1="420.00" x2="207.00" y2="436.00" stroke="#000" stroke-width="1.75" />
<line x1="205.20" y1="420.50" x2="208.80" y2="420.50" stroke="#000" stroke-width="1.6" />
<line x1="205.20" y1="435.50" x2="208.80" y2="435.50" stroke="#000" stroke-width="1.6" />
<polyline points="40.50,310.50 115.75,321.75 133.75,328.00 152.50,349.00 170.75,398.25 189.25,455.75 207.00,474.50 227.60,479.40" fill="none" stroke="#000" stroke-width="2.0" stroke-linejoin="round" stroke-linecap="butt" stroke-dasharray="2.3 2.0"/>
<polyline points="40.50,310.50 115.75,317.50 133.75,327.50 152.50,347.50 170.75,362.50 189.25,415.25 207.00,467.50 224.90,478.60" fill="none" stroke="#000" stroke-width="2.0" stroke-linejoin="round" stroke-linecap="butt" stroke-dasharray="8 2.4 2.3 2.4"/>
<polyline points="40.50,310.50 115.75,312.50 133.75,313.75 152.50,325.75 170.75,337.50 189.25,367.00 207.00,428.00 226.25,478.25 243.00,480.75" fill="none" stroke="#000" stroke-width="2.5" stroke-linejoin="round" stroke-linecap="butt"/>
<line x1="49.65" y1="487.50" x2="58.75" y2="477.90" stroke="#000" stroke-width="2.0" />
<line x1="55.00" y1="487.50" x2="63.60" y2="477.60" stroke="#000" stroke-width="2.0" />
<polygon points="49.80,317.00 58.90,308.20 64.30,307.70 54.65,317.00" fill="#fff"/>
<line x1="49.80" y1="317.00" x2="58.90" y2="308.20" stroke="#000" stroke-width="1.8" />
<line x1="54.65" y1="317.00" x2="64.30" y2="307.70" stroke="#000" stroke-width="1.8" />
<polygon points="111.55,321.75 115.75,317.55 119.95,321.75 115.75,325.95" fill="#000"/>
<polygon points="129.55,328.00 133.75,323.80 137.95,328.00 133.75,332.20" fill="#000"/>
<polygon points="148.30,349.00 152.50,344.80 156.70,349.00 152.50,353.20" fill="#000"/>
<polygon points="166.55,398.25 170.75,394.05 174.95,398.25 170.75,402.45" fill="#000"/>
<polygon points="185.05,455.75 189.25,451.55 193.45,455.75 189.25,459.95" fill="#000"/>
<polygon points="202.80,474.50 207.00,470.30 211.20,474.50 207.00,478.70" fill="#000"/>
<polygon points="223.40,479.40 227.60,475.20 231.80,479.40 227.60,483.60" fill="#000"/>
<circle cx="115.75" cy="317.50" r="3.35" fill="#000"/>
<circle cx="133.75" cy="327.50" r="3.35" fill="#000"/>
<circle cx="152.50" cy="347.50" r="3.35" fill="#000"/>
<circle cx="170.75" cy="362.50" r="3.35" fill="#000"/>
<circle cx="189.25" cy="415.25" r="3.35" fill="#000"/>
<circle cx="207.00" cy="467.50" r="3.35" fill="#000"/>
<circle cx="224.90" cy="478.60" r="3.35" fill="#000"/>
<rect x="113.35" y="310.10" width="4.8" height="4.8" fill="#fff" stroke="#000" stroke-width="1.6"/>
<rect x="131.35" y="311.35" width="4.8" height="4.8" fill="#fff" stroke="#000" stroke-width="1.6"/>
<rect x="150.10" y="323.35" width="4.8" height="4.8" fill="#fff" stroke="#000" stroke-width="1.6"/>
<rect x="168.35" y="335.10" width="4.8" height="4.8" fill="#fff" stroke="#000" stroke-width="1.6"/>
<rect x="186.85" y="364.60" width="4.8" height="4.8" fill="#fff" stroke="#000" stroke-width="1.6"/>
<rect x="204.60" y="425.60" width="4.8" height="4.8" fill="#fff" stroke="#000" stroke-width="1.6"/>
<rect x="240.60" y="478.35" width="4.8" height="4.8" fill="#fff" stroke="#000" stroke-width="1.6"/>
<rect x="38.10" y="308.10" width="4.8" height="4.8" fill="#fff" stroke="#000" stroke-width="1.6"/>
<line x1="327.30" y1="273.50" x2="327.30" y2="482.10" stroke="#000" stroke-width="1.5" />
<line x1="326.60" y1="481.50" x2="557.00" y2="481.50" stroke="#000" stroke-width="1.8" />
<line x1="324.50" y1="310.00" x2="327.30" y2="310.00" stroke="#000" stroke-width="1.4" />
<line x1="324.50" y1="344.30" x2="327.30" y2="344.30" stroke="#000" stroke-width="1.4" />
<line x1="325.90" y1="361.45" x2="328.70" y2="361.45" stroke="#000" stroke-width="1.1" />
<line x1="324.50" y1="378.60" x2="327.30" y2="378.60" stroke="#000" stroke-width="1.4" />
<line x1="325.90" y1="395.75" x2="328.70" y2="395.75" stroke="#000" stroke-width="1.1" />
<line x1="324.50" y1="412.90" x2="327.30" y2="412.90" stroke="#000" stroke-width="1.4" />
<line x1="325.90" y1="430.05" x2="328.70" y2="430.05" stroke="#000" stroke-width="1.1" />
<line x1="324.50" y1="447.20" x2="327.30" y2="447.20" stroke="#000" stroke-width="1.4" />
<line x1="325.90" y1="464.35" x2="328.70" y2="464.35" stroke="#000" stroke-width="1.1" />
<line x1="324.50" y1="481.50" x2="327.30" y2="481.50" stroke="#000" stroke-width="1.4" />
<line x1="325.70" y1="285.50" x2="328.90" y2="285.50" stroke="#000" stroke-width="1.3" />
<line x1="325.70" y1="294.50" x2="328.90" y2="294.50" stroke="#000" stroke-width="1.3" />
<line x1="325.70" y1="323.40" x2="328.90" y2="323.40" stroke="#000" stroke-width="1.3" />
<line x1="325.70" y1="332.20" x2="328.90" y2="332.20" stroke="#000" stroke-width="1.3" />
<text x="323.70" y="316.60" font-size="9.5" text-anchor="end" font-weight="normal" font-style="normal" textLength="16.96" lengthAdjust="spacingAndGlyphs" >100</text>
<text x="323.70" y="350.90" font-size="9.5" text-anchor="end" font-weight="normal" font-style="normal" textLength="11.30" lengthAdjust="spacingAndGlyphs" >80</text>
<text x="323.70" y="385.20" font-size="9.5" text-anchor="end" font-weight="normal" font-style="normal" textLength="11.30" lengthAdjust="spacingAndGlyphs" >60</text>
<text x="323.70" y="419.50" font-size="9.5" text-anchor="end" font-weight="normal" font-style="normal" textLength="11.30" lengthAdjust="spacingAndGlyphs" >40</text>
<text x="323.70" y="453.80" font-size="9.5" text-anchor="end" font-weight="normal" font-style="normal" textLength="11.30" lengthAdjust="spacingAndGlyphs" >20</text>
<text x="323.70" y="488.10" font-size="9.5" text-anchor="end" font-weight="normal" font-style="normal" >0</text>
<text x="329.90" y="494.20" font-size="9.6" text-anchor="middle" font-weight="normal" font-style="normal" >0</text>
<text x="363.30" y="494.20" font-size="9.6" text-anchor="middle" font-weight="normal" font-style="normal" textLength="14.14" lengthAdjust="spacingAndGlyphs" >.01</text>
<text x="393.50" y="494.20" font-size="9.6" text-anchor="middle" font-weight="normal" font-style="normal" textLength="8.49" lengthAdjust="spacingAndGlyphs" >.1</text>
<text x="427.40" y="494.20" font-size="9.6" text-anchor="middle" font-weight="normal" font-style="normal" >1</text>
<text x="461.60" y="494.20" font-size="9.6" text-anchor="middle" font-weight="normal" font-style="normal" textLength="11.32" lengthAdjust="spacingAndGlyphs" >10</text>
<text x="495.00" y="494.20" font-size="9.6" text-anchor="middle" font-weight="normal" font-style="normal" textLength="16.97" lengthAdjust="spacingAndGlyphs" >100</text>
<text x="533.50" y="494.20" font-size="9.6" text-anchor="middle" font-weight="normal" font-style="normal" textLength="22.63" lengthAdjust="spacingAndGlyphs" >1000</text>
<line x1="351.21" y1="481.50" x2="351.21" y2="483.70" stroke="#000" stroke-width="1.25" />
<line x1="353.60" y1="481.50" x2="353.60" y2="483.70" stroke="#000" stroke-width="1.25" />
<line x1="355.62" y1="481.50" x2="355.62" y2="483.70" stroke="#000" stroke-width="1.25" />
<line x1="357.37" y1="481.50" x2="357.37" y2="483.70" stroke="#000" stroke-width="1.25" />
<line x1="358.92" y1="481.50" x2="358.92" y2="483.70" stroke="#000" stroke-width="1.25" />
<line x1="360.30" y1="481.50" x2="360.30" y2="484.30" stroke="#000" stroke-width="1.5" />
<line x1="369.39" y1="481.50" x2="369.39" y2="483.70" stroke="#000" stroke-width="1.25" />
<line x1="374.71" y1="481.50" x2="374.71" y2="483.70" stroke="#000" stroke-width="1.25" />
<line x1="378.48" y1="481.50" x2="378.48" y2="483.70" stroke="#000" stroke-width="1.25" />
<line x1="381.41" y1="481.50" x2="381.41" y2="483.70" stroke="#000" stroke-width="1.25" />
<line x1="383.80" y1="481.50" x2="383.80" y2="483.70" stroke="#000" stroke-width="1.25" />
<line x1="385.82" y1="481.50" x2="385.82" y2="483.70" stroke="#000" stroke-width="1.25" />
<line x1="387.57" y1="481.50" x2="387.57" y2="483.70" stroke="#000" stroke-width="1.25" />
<line x1="389.12" y1="481.50" x2="389.12" y2="483.70" stroke="#000" stroke-width="1.25" />
<line x1="390.50" y1="481.50" x2="390.50" y2="484.30" stroke="#000" stroke-width="1.5" />
<line x1="401.61" y1="481.50" x2="401.61" y2="483.70" stroke="#000" stroke-width="1.25" />
<line x1="408.11" y1="481.50" x2="408.11" y2="483.70" stroke="#000" stroke-width="1.25" />
<line x1="412.72" y1="481.50" x2="412.72" y2="483.70" stroke="#000" stroke-width="1.25" />
<line x1="416.29" y1="481.50" x2="416.29" y2="483.70" stroke="#000" stroke-width="1.25" />
<line x1="419.21" y1="481.50" x2="419.21" y2="483.70" stroke="#000" stroke-width="1.25" />
<line x1="421.68" y1="481.50" x2="421.68" y2="483.70" stroke="#000" stroke-width="1.25" />
<line x1="423.82" y1="481.50" x2="423.82" y2="483.70" stroke="#000" stroke-width="1.25" />
<line x1="425.71" y1="481.50" x2="425.71" y2="483.70" stroke="#000" stroke-width="1.25" />
<line x1="427.40" y1="481.50" x2="427.40" y2="484.30" stroke="#000" stroke-width="1.5" />
<line x1="437.70" y1="481.50" x2="437.70" y2="483.70" stroke="#000" stroke-width="1.25" />
<line x1="443.72" y1="481.50" x2="443.72" y2="483.70" stroke="#000" stroke-width="1.25" />
<line x1="447.99" y1="481.50" x2="447.99" y2="483.70" stroke="#000" stroke-width="1.25" />
<line x1="451.30" y1="481.50" x2="451.30" y2="483.70" stroke="#000" stroke-width="1.25" />
<line x1="454.01" y1="481.50" x2="454.01" y2="483.70" stroke="#000" stroke-width="1.25" />
<line x1="456.30" y1="481.50" x2="456.30" y2="483.70" stroke="#000" stroke-width="1.25" />
<line x1="458.29" y1="481.50" x2="458.29" y2="483.70" stroke="#000" stroke-width="1.25" />
<line x1="460.04" y1="481.50" x2="460.04" y2="483.70" stroke="#000" stroke-width="1.25" />
<line x1="461.60" y1="481.50" x2="461.60" y2="484.30" stroke="#000" stroke-width="1.5" />
<line x1="471.65" y1="481.50" x2="471.65" y2="483.70" stroke="#000" stroke-width="1.25" />
<line x1="477.54" y1="481.50" x2="477.54" y2="483.70" stroke="#000" stroke-width="1.25" />
<line x1="481.71" y1="481.50" x2="481.71" y2="483.70" stroke="#000" stroke-width="1.25" />
<line x1="484.95" y1="481.50" x2="484.95" y2="483.70" stroke="#000" stroke-width="1.25" />
<line x1="487.59" y1="481.50" x2="487.59" y2="483.70" stroke="#000" stroke-width="1.25" />
<line x1="489.83" y1="481.50" x2="489.83" y2="483.70" stroke="#000" stroke-width="1.25" />
<line x1="491.76" y1="481.50" x2="491.76" y2="483.70" stroke="#000" stroke-width="1.25" />
<line x1="493.47" y1="481.50" x2="493.47" y2="483.70" stroke="#000" stroke-width="1.25" />
<line x1="495.00" y1="481.50" x2="495.00" y2="484.30" stroke="#000" stroke-width="1.5" />
<line x1="506.59" y1="481.50" x2="506.59" y2="483.70" stroke="#000" stroke-width="1.25" />
<line x1="513.37" y1="481.50" x2="513.37" y2="483.70" stroke="#000" stroke-width="1.25" />
<line x1="518.18" y1="481.50" x2="518.18" y2="483.70" stroke="#000" stroke-width="1.25" />
<line x1="521.91" y1="481.50" x2="521.91" y2="483.70" stroke="#000" stroke-width="1.25" />
<line x1="524.96" y1="481.50" x2="524.96" y2="483.70" stroke="#000" stroke-width="1.25" />
<line x1="527.54" y1="481.50" x2="527.54" y2="483.70" stroke="#000" stroke-width="1.25" />
<line x1="529.77" y1="481.50" x2="529.77" y2="483.70" stroke="#000" stroke-width="1.25" />
<line x1="531.74" y1="481.50" x2="531.74" y2="483.70" stroke="#000" stroke-width="1.25" />
<line x1="533.50" y1="481.50" x2="533.50" y2="484.30" stroke="#000" stroke-width="1.5" />
<line x1="545.09" y1="481.50" x2="545.09" y2="483.70" stroke="#000" stroke-width="1.25" />
<line x1="551.87" y1="481.50" x2="551.87" y2="483.70" stroke="#000" stroke-width="1.25" />
<text x="417.20" y="510.80" font-size="13.6" text-anchor="start" font-weight="normal" font-style="normal" textLength="34.60" lengthAdjust="spacingAndGlyphs" class="u">pg/ml</text>
<text x="337.70" y="279.90" font-size="14" text-anchor="start" font-weight="bold" font-style="normal" textLength="39.80" lengthAdjust="spacingAndGlyphs" class="t">4NQO</text>
<text class="u" transform="translate(301.90,441.30) rotate(-90)" font-size="14" textLength="125.00" lengthAdjust="spacingAndGlyphs">Cell proliferation (%)</text>
<line x1="415.00" y1="282.25" x2="415.00" y2="326.50" stroke="#000" stroke-width="1.75" />
<line x1="413.20" y1="282.75" x2="416.80" y2="282.75" stroke="#000" stroke-width="1.6" />
<line x1="415.00" y1="328.60" x2="415.00" y2="331.60" stroke="#000" stroke-width="1.75" />
<line x1="415.00" y1="333.90" x2="415.00" y2="337.20" stroke="#000" stroke-width="1.75" />
<line x1="429.50" y1="295.50" x2="429.50" y2="339.50" stroke="#000" stroke-width="1.75" />
<line x1="427.70" y1="296.00" x2="431.30" y2="296.00" stroke="#000" stroke-width="1.6" />
<line x1="429.50" y1="342.40" x2="429.50" y2="348.60" stroke="#000" stroke-width="1.75" />
<line x1="445.00" y1="306.25" x2="445.00" y2="325.00" stroke="#000" stroke-width="1.75" />
<line x1="443.20" y1="306.75" x2="446.80" y2="306.75" stroke="#000" stroke-width="1.6" />
<line x1="443.20" y1="324.50" x2="446.80" y2="324.50" stroke="#000" stroke-width="1.6" />
<line x1="445.00" y1="337.50" x2="445.00" y2="368.75" stroke="#000" stroke-width="1.75" />
<line x1="443.20" y1="338.00" x2="446.80" y2="338.00" stroke="#000" stroke-width="1.6" />
<line x1="443.20" y1="368.25" x2="446.80" y2="368.25" stroke="#000" stroke-width="1.6" />
<line x1="460.50" y1="303.00" x2="460.50" y2="341.25" stroke="#000" stroke-width="1.75" />
<line x1="458.70" y1="303.50" x2="462.30" y2="303.50" stroke="#000" stroke-width="1.6" />
<line x1="458.70" y1="340.75" x2="462.30" y2="340.75" stroke="#000" stroke-width="1.6" />
<line x1="460.50" y1="381.25" x2="460.50" y2="406.25" stroke="#000" stroke-width="1.75" />
<line x1="458.70" y1="381.75" x2="462.30" y2="381.75" stroke="#000" stroke-width="1.6" />
<line x1="458.70" y1="405.75" x2="462.30" y2="405.75" stroke="#000" stroke-width="1.6" />
<line x1="476.25" y1="338.75" x2="476.25" y2="355.50" stroke="#000" stroke-width="1.75" />
<line x1="474.45" y1="339.25" x2="478.05" y2="339.25" stroke="#000" stroke-width="1.6" />
<line x1="474.45" y1="355.00" x2="478.05" y2="355.00" stroke="#000" stroke-width="1.6" />
<line x1="492.25" y1="393.75" x2="492.25" y2="415.00" stroke="#000" stroke-width="1.75" />
<line x1="490.45" y1="394.25" x2="494.05" y2="394.25" stroke="#000" stroke-width="1.6" />
<line x1="490.45" y1="414.50" x2="494.05" y2="414.50" stroke="#000" stroke-width="1.6" />
<line x1="476.50" y1="428.00" x2="476.50" y2="446.00" stroke="#000" stroke-width="1.75" />
<line x1="474.70" y1="428.50" x2="478.30" y2="428.50" stroke="#000" stroke-width="1.6" />
<line x1="474.70" y1="445.50" x2="478.30" y2="445.50" stroke="#000" stroke-width="1.6" />
<polyline points="327.50,310.00 415.00,302.50 429.50,330.50 445.00,353.50 460.50,391.50 476.25,440.75 492.00,469.50 508.00,475.75 523.00,480.00" fill="none" stroke="#000" stroke-width="2.0" stroke-linejoin="round" stroke-linecap="butt" stroke-dasharray="2.3 2.0"/>
<polyline points="327.50,310.00 415.00,324.40 429.50,335.50 445.00,351.50 460.50,390.75 476.75,434.00 493.25,463.25 508.00,472.00 523.00,480.00" fill="none" stroke="#000" stroke-width="2.0" stroke-linejoin="round" stroke-linecap="butt" stroke-dasharray="8 2.4 2.3 2.4"/>
<polyline points="327.50,310.00 415.00,312.20 429.30,311.30 445.00,315.50 460.50,322.50 476.25,347.00 492.25,404.00 508.00,465.00 523.00,480.00" fill="none" stroke="#000" stroke-width="2.5" stroke-linejoin="round" stroke-linecap="butt"/>
<line x1="333.00" y1="486.20" x2="342.20" y2="477.30" stroke="#000" stroke-width="2.0" />
<line x1="337.90" y1="486.20" x2="347.00" y2="476.80" stroke="#000" stroke-width="2.0" />
<polygon points="333.30,314.20 341.80,304.90 346.40,304.40 337.90,314.20" fill="#fff"/>
<line x1="333.30" y1="314.20" x2="341.80" y2="304.90" stroke="#000" stroke-width="1.8" />
<line x1="337.90" y1="314.20" x2="346.40" y2="304.40" stroke="#000" stroke-width="1.8" />
<polygon points="410.80,302.50 415.00,298.30 419.20,302.50 415.00,306.70" fill="#000"/>
<polygon points="425.30,330.50 429.50,326.30 433.70,330.50 429.50,334.70" fill="#000"/>
<polygon points="440.80,353.50 445.00,349.30 449.20,353.50 445.00,357.70" fill="#000"/>
<polygon points="456.30,391.50 460.50,387.30 464.70,391.50 460.50,395.70" fill="#000"/>
<polygon points="472.05,440.75 476.25,436.55 480.45,440.75 476.25,444.95" fill="#000"/>
<polygon points="487.80,469.50 492.00,465.30 496.20,469.50 492.00,473.70" fill="#000"/>
<polygon points="503.80,475.75 508.00,471.55 512.20,475.75 508.00,479.95" fill="#000"/>
<polygon points="518.80,480.00 523.00,475.80 527.20,480.00 523.00,484.20" fill="#000"/>
<circle cx="415.00" cy="324.40" r="3.35" fill="#000"/>
<circle cx="429.50" cy="335.50" r="3.35" fill="#000"/>
<circle cx="445.00" cy="351.50" r="3.35" fill="#000"/>
<circle cx="460.50" cy="390.75" r="3.35" fill="#000"/>
<circle cx="476.75" cy="434.00" r="3.35" fill="#000"/>
<circle cx="493.25" cy="463.25" r="3.35" fill="#000"/>
<circle cx="508.00" cy="472.00" r="3.35" fill="#000"/>
<circle cx="523.00" cy="480.00" r="3.35" fill="#000"/>
<rect x="426.90" y="308.90" width="4.8" height="4.8" fill="#fff" stroke="#000" stroke-width="1.6"/>
<rect x="442.60" y="313.10" width="4.8" height="4.8" fill="#fff" stroke="#000" stroke-width="1.6"/>
<rect x="458.10" y="320.10" width="4.8" height="4.8" fill="#fff" stroke="#000" stroke-width="1.6"/>
<rect x="473.85" y="344.60" width="4.8" height="4.8" fill="#fff" stroke="#000" stroke-width="1.6"/>
<rect x="489.85" y="401.60" width="4.8" height="4.8" fill="#fff" stroke="#000" stroke-width="1.6"/>
<rect x="505.60" y="462.60" width="4.8" height="4.8" fill="#fff" stroke="#000" stroke-width="1.6"/>
<rect x="325.10" y="307.60" width="4.8" height="4.8" fill="#fff" stroke="#000" stroke-width="1.6"/>
<line x1="354.00" y1="134.50" x2="400.00" y2="134.50" stroke="#000" stroke-width="2.1" />
<rect x="374.45" y="130.05" width="8.9" height="8.9" fill="#fff" stroke="#000" stroke-width="1.7"/>
<text x="405.90" y="139.10" font-size="14.2" text-anchor="start" font-weight="bold" font-style="normal" textLength="61.60" lengthAdjust="spacingAndGlyphs" >Wild-type</text>
<line x1="354.60" y1="156.50" x2="357.30" y2="156.50" stroke="#000" stroke-width="2.2" />
<line x1="359.25" y1="156.50" x2="361.95" y2="156.50" stroke="#000" stroke-width="2.2" />
<line x1="363.90" y1="156.50" x2="366.60" y2="156.50" stroke="#000" stroke-width="2.2" />
<line x1="368.55" y1="156.50" x2="371.25" y2="156.50" stroke="#000" stroke-width="2.2" />
<line x1="387.20" y1="156.50" x2="389.90" y2="156.50" stroke="#000" stroke-width="2.2" />
<line x1="391.85" y1="156.50" x2="394.55" y2="156.50" stroke="#000" stroke-width="2.2" />
<line x1="396.50" y1="156.50" x2="399.20" y2="156.50" stroke="#000" stroke-width="2.2" />
<polygon points="372.50,156.50 379.00,150.00 385.50,156.50 379.00,163.00" fill="#000"/>
<line x1="354.30" y1="177.80" x2="364.50" y2="177.80" stroke="#000" stroke-width="2.1" />
<line x1="367.40" y1="177.80" x2="370.00" y2="177.80" stroke="#000" stroke-width="2.1" />
<line x1="384.50" y1="177.80" x2="387.20" y2="177.80" stroke="#000" stroke-width="2.1" />
<line x1="389.40" y1="177.80" x2="400.00" y2="177.80" stroke="#000" stroke-width="2.1" />
<circle cx="379.00" cy="177.80" r="5.2" fill="#000"/>
<text x="406.20" y="160.90" font-size="14.2" text-anchor="start" font-weight="bold" font-style="italic" textLength="27.60" lengthAdjust="spacingAndGlyphs" >BLM</text>
<text x="434.00" y="155.70" font-size="14" text-anchor="start" font-weight="bold" font-style="italic" >-</text>
<text x="438.20" y="157.70" font-size="14" text-anchor="start" font-weight="bold" font-style="italic" textLength="5.40" lengthAdjust="spacingAndGlyphs" >/</text>
<text x="445.40" y="155.90" font-size="14" text-anchor="start" font-weight="bold" font-style="italic" >-</text>
<text x="453.00" y="160.90" font-size="14.2" text-anchor="start" font-weight="bold" font-style="normal" textLength="22.40" lengthAdjust="spacingAndGlyphs" >#17</text>
<text x="406.20" y="182.30" font-size="14.2" text-anchor="start" font-weight="bold" font-style="italic" textLength="27.60" lengthAdjust="spacingAndGlyphs" >BLM</text>
<text x="434.00" y="177.10" font-size="14" text-anchor="start" font-weight="bold" font-style="italic" >-</text>
<text x="438.20" y="179.10" font-size="14" text-anchor="start" font-weight="bold" font-style="italic" textLength="5.40" lengthAdjust="spacingAndGlyphs" >/</text>
<text x="445.40" y="177.30" font-size="14" text-anchor="start" font-weight="bold" font-style="italic" >-</text>
<text x="453.00" y="182.30" font-size="14.2" text-anchor="start" font-weight="bold" font-style="normal" textLength="22.40" lengthAdjust="spacingAndGlyphs" >#29</text>
</svg>
</body></html>
